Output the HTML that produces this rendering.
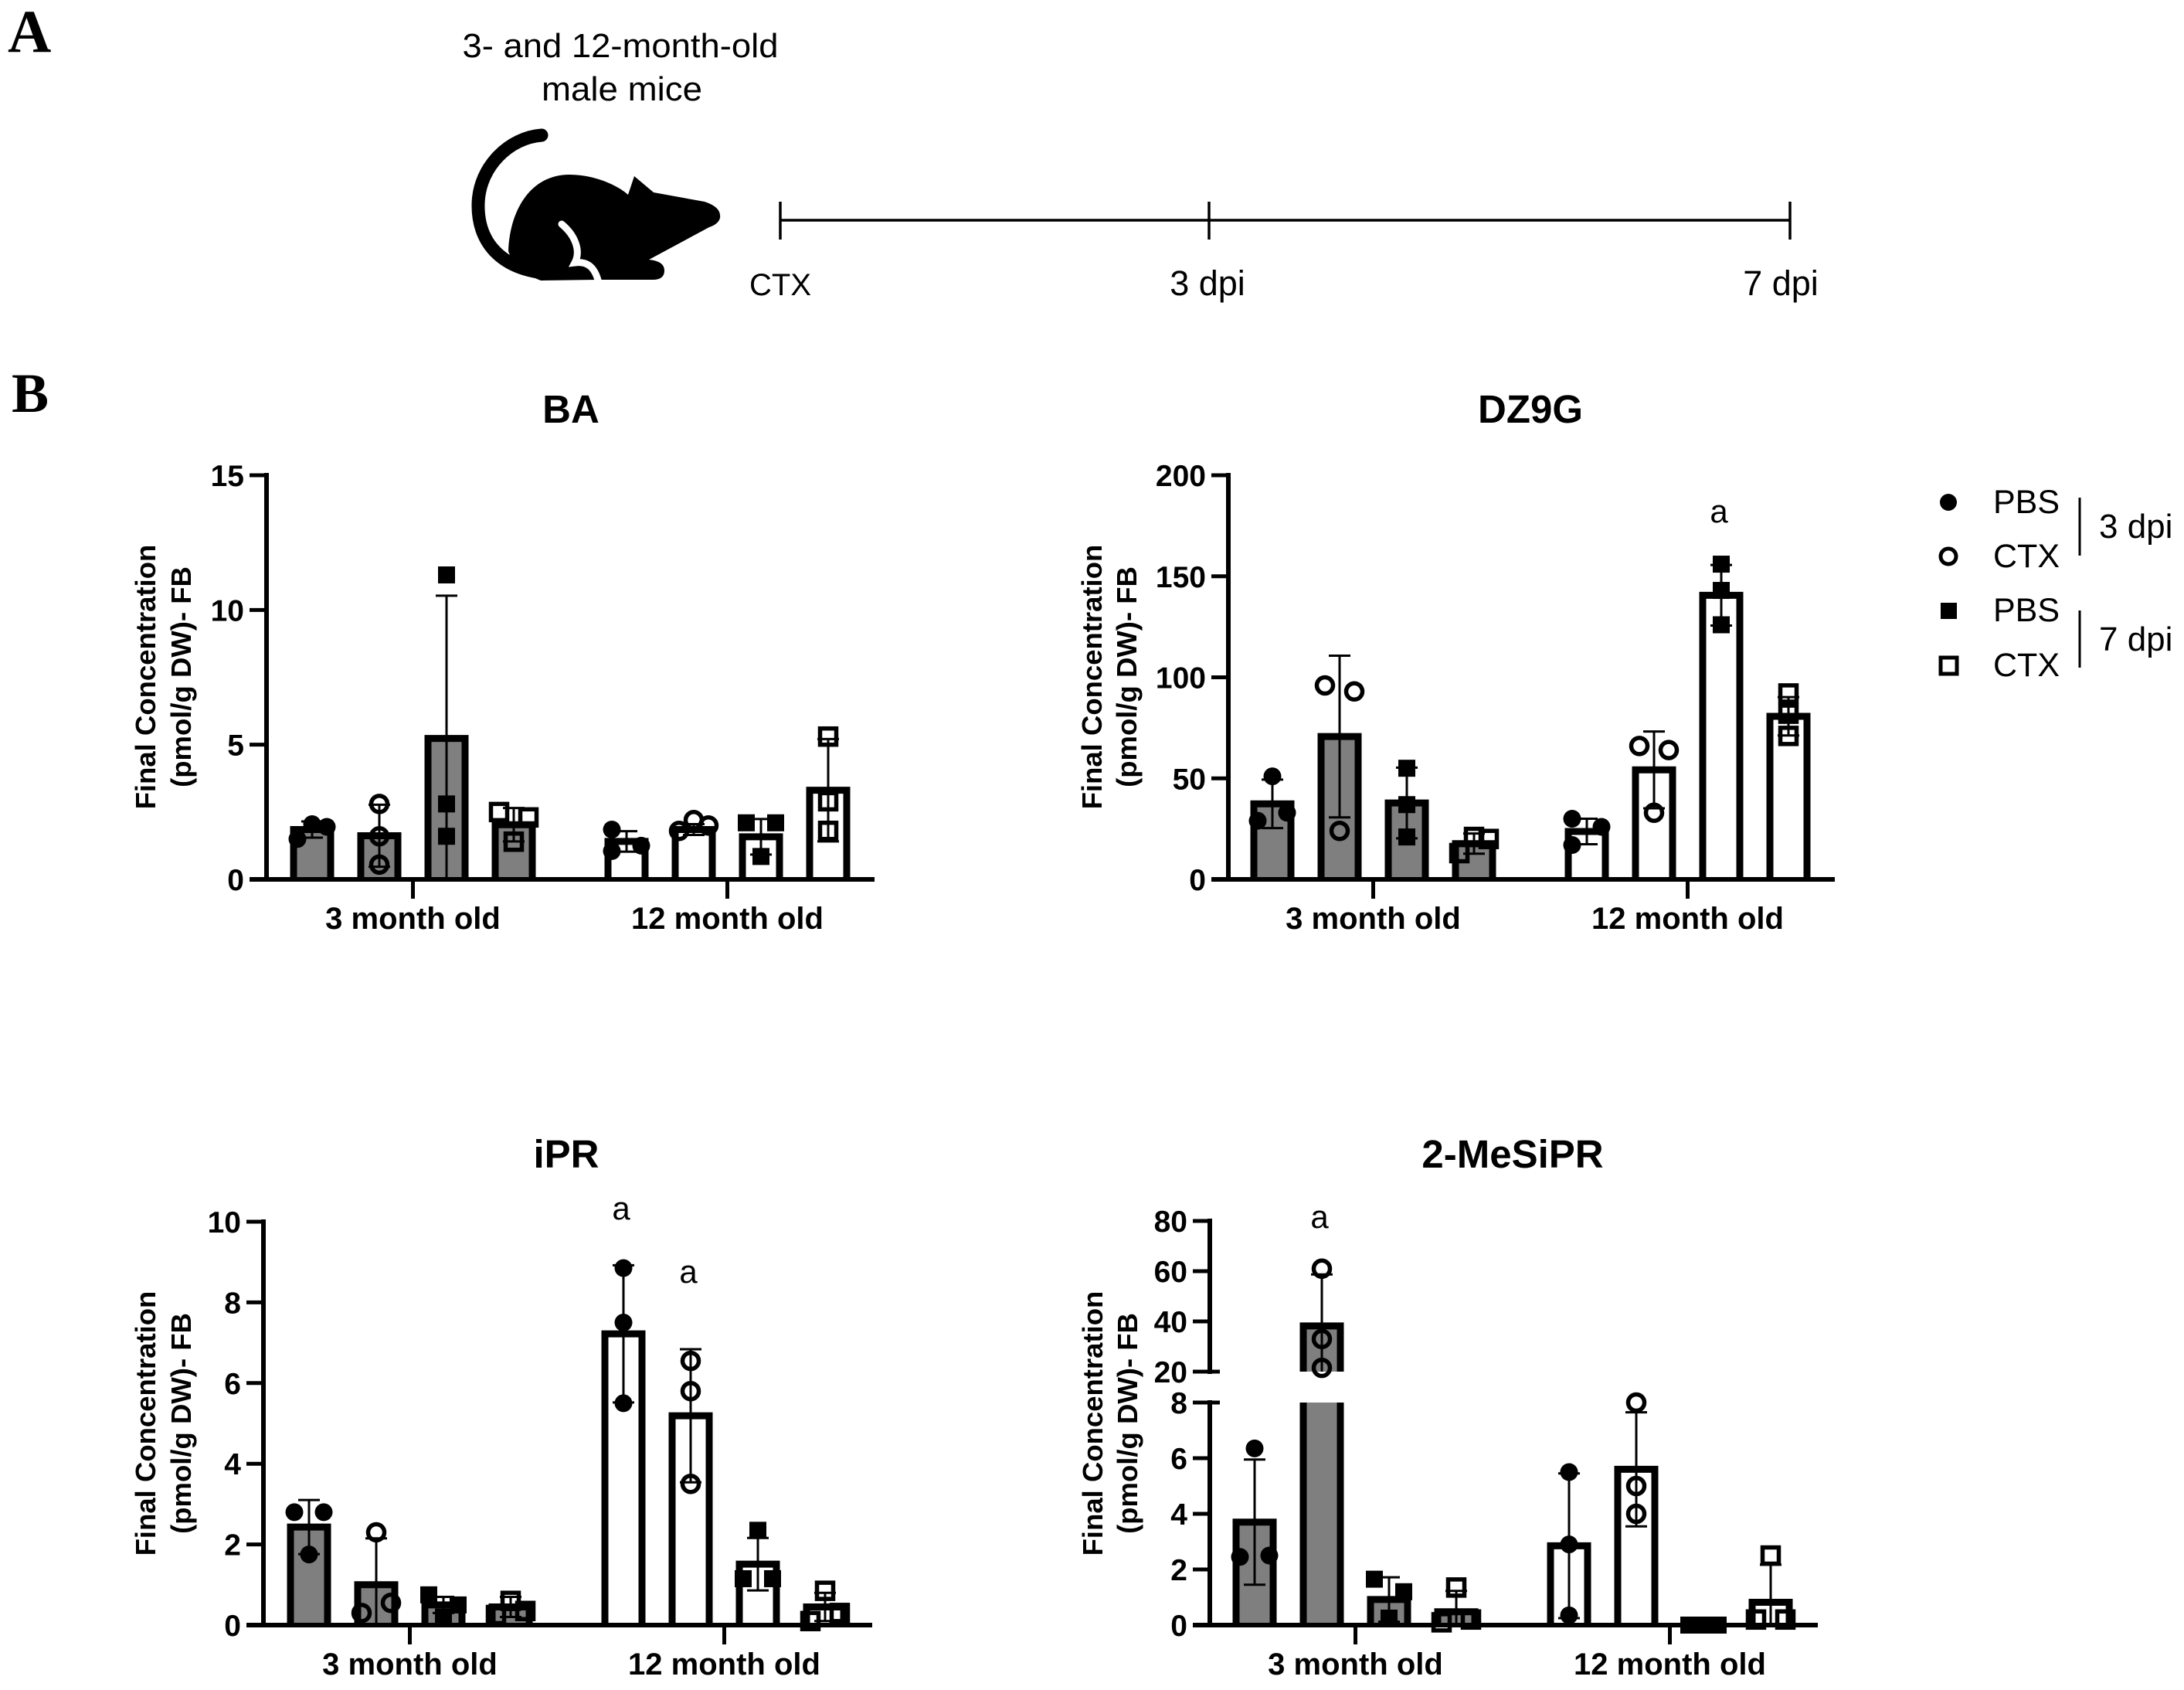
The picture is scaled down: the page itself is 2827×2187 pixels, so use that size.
<!DOCTYPE html>
<html lang="en">
<head>
<meta charset="utf-8">
<title>Final concentration panels</title>
<style>
html,body{margin:0;padding:0;background:#fff;}
svg{display:block;}
text{font-family:"Liberation Sans",sans-serif;fill:#000;}
</style>
</head>
<body>
<svg id="figure" xmlns="http://www.w3.org/2000/svg" width="2827" height="2187" viewBox="0 0 2827 2187">
  <rect x="0" y="0" width="2827" height="2187" fill="#fff"/>
  <text x="10" y="67" font-size="78" font-weight="bold" style="font-family:'Liberation Serif',serif">A</text>
  <text x="15" y="533" font-size="72" font-weight="bold" style="font-family:'Liberation Serif',serif">B</text>

  <g>
    <text x="803" y="74" font-size="44" text-anchor="middle" textLength="409" lengthAdjust="spacingAndGlyphs">3- and 12-month-old</text>
    <text x="805" y="130" font-size="44" text-anchor="middle" textLength="208" lengthAdjust="spacingAndGlyphs">male mice</text>
    <g>
      <path d="M701,175 C660,178 620,215 619,264 C618,310 645,350 714,354" fill="none" stroke="#000" stroke-width="17" stroke-linecap="round"/>
      <path d="M658,325 C660,270 688,226 737,226 C770,226 800,240 813,252 L821,228 L846,249 L912,261 Q934,268 932,282 Q930,290 918,294 L840,336 Q860,338 860,350 Q860,362 845,362 L775,362 L700,363 Q666,350 658,325 Z" fill="#000"/>
      <path d="M727,290 C745,305 752,325 744,340 C760,338 770,345 775,366" fill="none" stroke="#fff" stroke-width="9" stroke-linecap="round"/>
    </g>
    <g stroke="#000" stroke-width="3.5">
      <line x1="1010" y1="285" x2="2317" y2="285"/>
      <line x1="1010" y1="261" x2="1010" y2="310"/>
      <line x1="1565" y1="261" x2="1565" y2="310"/>
      <line x1="2317" y1="261" x2="2317" y2="310"/>
    </g>
    <text x="1010" y="382" font-size="40" text-anchor="middle">CTX</text>
    <text x="1563" y="382" font-size="45" text-anchor="middle">3 dpi</text>
    <text x="2305" y="382" font-size="45" text-anchor="middle">7 dpi</text>
  </g>

  <g>
    <circle cx="2522" cy="650" r="11" fill="#000"/>
    <circle cx="2522" cy="720" r="10" fill="none" stroke="#000" stroke-width="5"/>
    <rect x="2512" y="780" width="21" height="21" fill="#000"/>
    <rect x="2512" y="851" width="21" height="21" fill="none" stroke="#000" stroke-width="5"/>
    <text x="2580" y="664" font-size="43">PBS</text>
    <text x="2580" y="734" font-size="43">CTX</text>
    <text x="2580" y="804" font-size="43">PBS</text>
    <text x="2580" y="875" font-size="43">CTX</text>
    <line x1="2692" y1="644" x2="2692" y2="719" stroke="#000" stroke-width="3"/>
    <line x1="2692" y1="790" x2="2692" y2="864" stroke="#000" stroke-width="3"/>
    <text x="2717" y="696" font-size="44">3 dpi</text>
    <text x="2717" y="842" font-size="44">7 dpi</text>
  </g>

  <text x="739" y="547" font-size="51" font-weight="bold" text-anchor="middle">BA</text>
  <text x="1981" y="547" font-size="51" font-weight="bold" text-anchor="middle">DZ9G</text>
  <text x="733" y="1511" font-size="51" font-weight="bold" text-anchor="middle">iPR</text>
  <text x="1958" y="1511" font-size="51" font-weight="bold" text-anchor="middle">2-MeSiPR</text>

  <text x="2225" y="676" font-size="42" text-anchor="middle">a</text>
  <text x="804" y="1578" font-size="42" text-anchor="middle">a</text>
  <text x="891" y="1660" font-size="42" text-anchor="middle">a</text>
  <text x="1708" y="1589" font-size="42" text-anchor="middle">a</text>
</svg>

<script>
const SVG_NS = 'http://www.w3.org/2000/svg';
const figure = document.getElementById('figure');

const categories = ['3 month old', '12 month old'];
const titleLine1 = 'Final Concentration';
const titleLine2 = '(pmol/g DW)- FB';
/* marker kind for each of the four bars in a group */
const treatments = ['pbs-3dpi', 'ctx-3dpi', 'pbs-7dpi', 'ctx-7dpi'];

/* BA */
const baTicks = [0, 5, 10, 15];
const baMeans = [1.85, 1.62, 5.23, 2.03, 1.41, 1.85, 1.58, 3.31];
const baSds = [0.3, 1.15, 5.3, 0.62, 0.38, 0.2, 0.66, 1.9];
const baPoints = [[1.5, 2.05, 1.95], [2.8, 1.6, 0.55], [11.3, 2.8, 1.6], [2.5, 1.4, 2.3], [1.85, 1.05, 1.25], [1.8, 2.2, 2.0], [2.1, 0.85, 2.1], [5.3, 2.9, 1.8]];
const baSides = [[-1, 0, 1], [0, 0, 0], [0, 0, 0], [-1, 0, 1], [-1, -1, 1], [-1, 0, 1], [-1, 0, 1], [0, 0, 0]];

/* DZ9G */
const dzTicks = [0, 50, 100, 150, 200];
const dzMeans = [37.4, 70.7, 37.8, 17.7, 23.7, 54.2, 140.6, 80.7];
const dzSds = [12, 40, 17.5, 5, 6.3, 19, 15, 9.5];
const dzPoints = [[51, 29, 33], [96, 24, 93], [55, 37, 21], [13, 21, 20], [30, 17, 26], [66, 33, 64], [156, 143, 126], [92, 82, 71]];
const dzSides = [[0, -1, 1], [-1, 0, 1], [0, 0, 0], [-1, 0, 1], [-1, -1, 1], [-1, 0, 1], [0, 0, 0], [0, 0, 0]];

/* iPR */
const iprTicks = [0, 2, 4, 6, 8, 10];
const iprMeans = [2.43, 1.0, 0.5, 0.45, 7.22, 5.19, 1.51, 0.45];
const iprSds = [0.67, 1.15, 0.2, 0.25, 1.7, 1.65, 0.65, 0.35];
const iprPoints = [[2.8, 1.75, 2.8], [0.3, 2.3, 0.55], [0.75, 0.2, 0.5], [0.25, 0.6, 0.35], [8.85, 7.5, 5.5], [6.55, 5.8, 3.5], [1.15, 2.35, 1.15], [0.1, 0.85, 0.3]];
const iprSides = [[-1, 0, 1], [-1, 0, 1], [-1, 0, 1], [-1, 0, 1], [0, 0, 0], [0, 0, 0], [-1, 0, 1], [-1, 0, 1]];

/* 2-MeSiPR (broken axis) */
const mesLowerTicks = [0, 2, 4, 6, 8];
const mesUpperTicks = [20, 40, 60, 80];
const mesMeans = [3.7, 38.2, 0.92, 0.48, 2.85, 5.6, 0, 0.82];
const mesSds = [2.25, 20.5, 0.8, 0.75, 2.6, 2.05, 0, 1.35];
const mesPoints = [[2.45, 6.35, 2.5], [61, 33, 21.5], [1.65, 0.25, 1.2], [0.1, 1.35, 0.2], [5.5, 2.9, 0.35], [8, 5, 4], [0, 0, 0], [0.2, 2.5, 0.2]];
const mesSides = [[-1, 0, 1], [0, 0, 0], [-1, 0, 1], [-1, 0, 1], [0, 0, 0], [0, 0, 0], [-1, 0, 1], [-1, 0, 1]];

function svgEl(tag, attrs, parent) {
  const el = document.createElementNS(SVG_NS, tag);
  for (const k in attrs) el.setAttribute(k, attrs[k]);
  parent.appendChild(el);
  return el;
}

function drawMarker(kind, cx, cy, parent) {
  let m;
  if (kind === 'pbs-3dpi') {
    m = svgEl('circle', { cx: cx, cy: cy, r: 11.5, fill: '#000' }, parent);
  } else if (kind === 'ctx-3dpi') {
    m = svgEl('circle', { cx: cx, cy: cy, r: 10.5, fill: 'none', stroke: '#000', 'stroke-width': 5.5 }, parent);
  } else if (kind === 'pbs-7dpi') {
    m = svgEl('rect', { x: cx - 11, y: cy - 11, width: 22, height: 22, fill: '#000' }, parent);
  } else {
    m = svgEl('rect', { x: cx - 10.5, y: cy - 10.5, width: 21, height: 21, fill: 'none', stroke: '#000', 'stroke-width': 5.5 }, parent);
  }
  
  
}

function drawPanel(p) {
  const g = svgEl('g', {}, figure);
  
  

  const SPACING = 87, GROUP_EXTRA = 59, BAR_W = 48, JITTER = 19;
  const xPos = function (i) { return p.firstBarX + i * SPACING + (i >= 4 ? GROUP_EXTRA : 0); };

  /* piecewise linear y axis */
  const yPos = function (v) {
    const segs = p.segments;
    for (let s = 0; s < segs.length; s++) {
      const a = segs[s];
      if (v <= a.max || s === segs.length - 1) {
        if (v >= a.min) return a.yMin + (v - a.min) / (a.max - a.min) * (a.yMax - a.yMin);
        const prev = segs[s - 1];
        return prev.yMax + (v - prev.max) / (a.min - prev.max) * (a.yMin - prev.yMax);
      }
    }
  };

  /* bars and error bars, one piece for each axis segment */
  p.means.forEach(function (mean, i) {
    const cx = xPos(i);
    const fill = i < 4 ? '#7f7f7f' : '#ffffff';
    const left = cx - BAR_W / 2, right = cx + BAR_W / 2;
    p.segments.forEach(function (seg) {
      if (mean <= seg.min && seg.min > 0) return;
      const yBottom = seg.yMin;
      const clipped = mean > seg.max;
      const yTop = clipped ? seg.yMax : yPos(mean);
      const barFill = svgEl('rect', { x: left, y: yTop, width: BAR_W, height: Math.max(0, yBottom - yTop), fill: fill }, g);
      
      
      const d = clipped
        ? 'M' + left + ',' + yBottom + 'V' + yTop + 'M' + right + ',' + yTop + 'V' + yBottom
        : 'M' + left + ',' + yBottom + 'V' + yTop + 'H' + right + 'V' + yBottom;
      const outline = svgEl('path', { d: d, fill: 'none', stroke: '#000', 'stroke-width': 9, 'stroke-linejoin': 'miter' }, g);
      
      
    });
  });

  /* axes */
  const baseY = p.segments[0].yMin;
  const xAxis = svgEl('line', { x1: p.axisX - 22, y1: baseY, x2: p.axisEnd, y2: baseY, stroke: '#000', 'stroke-width': 6 }, g);
  
  

  p.segments.forEach(function (seg) {
    const yAxis = svgEl('line', { x1: p.axisX, y1: seg.yMin + 3, x2: p.axisX, y2: seg.yMax - 3, stroke: '#000', 'stroke-width': 6 }, g);
    
    
    seg.ticks.forEach(function (t) {
      const y = yPos(t);
      const isBreak = p.segments.length > 1 && ((seg.min > 0 && t === seg.min) || (seg.min === 0 && t === seg.max));
      const tick = svgEl('line', { x1: p.axisX - 22, y1: y, x2: p.axisX + (isBreak ? 13 : 0), y2: y, stroke: '#000', 'stroke-width': 5 }, g);
      
      
      const lbl = svgEl('text', { x: p.axisX - 29, y: y + 14, 'font-size': 39, 'font-weight': 'bold', 'text-anchor': 'end' }, g);
      
      
      lbl.textContent = String(t);
    });
  });

  categories.forEach(function (cat, c) {
    const cx = (xPos(c * 4) + xPos(c * 4 + 3)) / 2;
    const tick = svgEl('line', { x1: cx, y1: baseY, x2: cx, y2: baseY + 25, stroke: '#000', 'stroke-width': 5 }, g);
    
    
    const lbl = svgEl('text', { x: cx, y: baseY + 64, 'font-size': 40, 'font-weight': 'bold', 'text-anchor': 'middle' }, g);
    
    
    lbl.textContent = cat;
  });

  /* error bars */
  p.means.forEach(function (mean, i) {
    const cx = xPos(i), sd = p.sds[i];
    const hi = mean + sd, lo = Math.max(0, mean - sd);
    if (sd === 0) return;
    p.segments.forEach(function (seg) {
      const a = Math.max(lo, seg.min), b = Math.min(hi, seg.max);
      if (a >= b) return;
      if (p.segments.length > 1 && seg.min === 0 && hi > seg.max) return;
      const stem = svgEl('line', { x1: cx, y1: yPos(a), x2: cx, y2: yPos(b), stroke: '#000', 'stroke-width': 3 }, g);
      
      
      if (hi <= seg.max) {
        const capHi = svgEl('line', { x1: cx - 14, y1: yPos(hi), x2: cx + 14, y2: yPos(hi), stroke: '#000', 'stroke-width': 3 }, g);
        
        
      }
      if (lo >= seg.min && lo > 0) {
        const capLo = svgEl('line', { x1: cx - 14, y1: yPos(lo), x2: cx + 14, y2: yPos(lo), stroke: '#000', 'stroke-width': 3 }, g);
        
        
      }
    });
  });

  /* individual points */
  p.points.forEach(function (vals, i) {
    vals.forEach(function (v, k) {
      drawMarker(treatments[i % 4], xPos(i) + p.sides[i][k] * JITTER, yPos(v), g);
    });
  });

  /* y-axis title */
  const t1 = svgEl('text', { x: 0, y: 0, 'font-size': 36.5, 'font-weight': 'bold', 'text-anchor': 'middle', transform: 'translate(' + (p.titleX1 + 12) + ',' + p.titleY + ') rotate(-90)' }, g);
  
  
  t1.textContent = titleLine1;
  const t2 = svgEl('text', { x: 0, y: 0, 'font-size': 36.5, 'font-weight': 'bold', 'text-anchor': 'middle', transform: 'translate(' + (p.titleX2 + 12) + ',' + p.titleY + ') rotate(-90)' }, g);
  
  
  t2.textContent = titleLine2;
}

drawPanel({
  name: 'ba', axisX: 345, axisEnd: 1132, firstBarX: 404,
  segments: [{ min: 0, max: 15, yMin: 1138, yMax: 615, ticks: baTicks }],
  means: baMeans, sds: baSds, points: baPoints, sides: baSides,
  titleX1: 189, titleX2: 235, titleY: 876
});
drawPanel({
  name: 'dz9g', axisX: 1590, axisEnd: 2375, firstBarX: 1647,
  segments: [{ min: 0, max: 200, yMin: 1138, yMax: 615, ticks: dzTicks }],
  means: dzMeans, sds: dzSds, points: dzPoints, sides: dzSides,
  titleX1: 1414, titleX2: 1459, titleY: 876
});
drawPanel({
  name: 'ipr', axisX: 341, axisEnd: 1129, firstBarX: 400,
  segments: [{ min: 0, max: 10, yMin: 2103, yMax: 1581, ticks: iprTicks }],
  means: iprMeans, sds: iprSds, points: iprPoints, sides: iprSides,
  titleX1: 189, titleX2: 235, titleY: 1842
});
drawPanel({
  name: '2mesipr', axisX: 1566, axisEnd: 2353, firstBarX: 1624,
  segments: [
    { min: 0, max: 8, yMin: 2103, yMax: 1815, ticks: mesLowerTicks },
    { min: 20, max: 80, yMin: 1775, yMax: 1580, ticks: mesUpperTicks }
  ],
  means: mesMeans, sds: mesSds, points: mesPoints, sides: mesSides,
  titleX1: 1415, titleX2: 1460, titleY: 1842
});
</script>
</body>
</html>
